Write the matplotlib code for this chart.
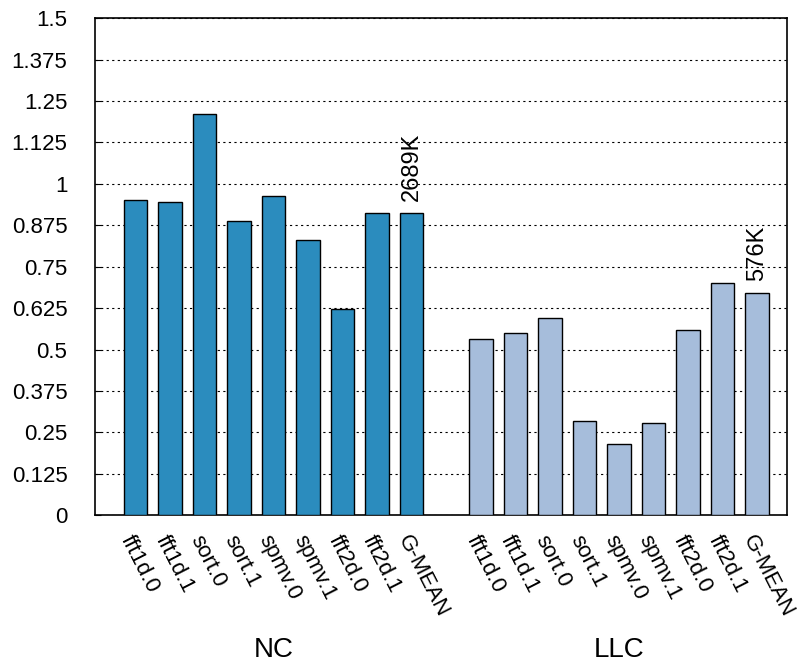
import matplotlib
matplotlib.use("Agg")
import matplotlib.pyplot as plt
from matplotlib.transforms import blended_transform_factory

plt.rcParams['font.family'] = ['Liberation Sans', 'DejaVu Sans']

benchmarks = ['fft1d.0', 'fft1d.1', 'sort.0', 'sort.1', 'spmv.0', 'spmv.1', 'fft2d.0', 'fft2d.1', 'G-MEAN']
groups = ['NC', 'LLC']
nc_vals = [0.951, 0.946, 1.211, 0.888, 0.963, 0.829, 0.621, 0.912, 0.912]
llc_vals = [0.532, 0.550, 0.596, 0.283, 0.216, 0.279, 0.560, 0.700, 0.671]
gmean_notes = ['2689K', '576K']
colors = ['#2b8cbe', '#a6bddb']

fig = plt.figure(figsize=(8, 6.7), dpi=100)
ax = fig.add_axes([0.119, 0.231, 0.865, 0.742])

xpos = []
xlabels = []
for g, (vals, col) in enumerate(zip([nc_vals, llc_vals], colors)):
    xs = [g * 10 + i for i in range(len(vals))]
    ax.bar(xs, vals, width=0.68, color=col, edgecolor='black', linewidth=1, zorder=3)
    ax.text(xs[-1], vals[-1] + 0.035, gmean_notes[g], rotation=90, ha='center', va='bottom', fontsize=17)
    xpos += xs
    xlabels += benchmarks

trans = blended_transform_factory(ax.transData, ax.transAxes)
for g, name in enumerate(groups):
    ax.text(g * 10 + 4, -0.272, name, transform=trans, ha='center', va='center', fontsize=20)

ax.set_xlim(-1.16, 18.87)
ax.set_ylim(0, 1.5)
ticks = [i * 0.125 for i in range(13)]
ax.set_yticks(ticks)
ax.set_yticklabels(['0', '0.125', '0.25', '0.375', '0.5', '0.625', '0.75', '0.875', '1', '1.125', '1.25', '1.375', '1.5'], fontsize=16)
ax.tick_params(axis='y', direction='in', length=4, pad=20)
ax.set_xticks(xpos)
ax.set_xticklabels(xlabels, rotation=-63, ha='left', va='top', rotation_mode='anchor', fontsize=16)
ax.tick_params(axis='x', length=0, pad=12)
ax.yaxis.grid(True, linestyle=(0, (2, 3)), color='black', linewidth=0.8, zorder=0)
ax.set_axisbelow(True)
for s in ax.spines.values():
    s.set_linewidth(1.2)

fig.savefig('out.png', dpi=100)
